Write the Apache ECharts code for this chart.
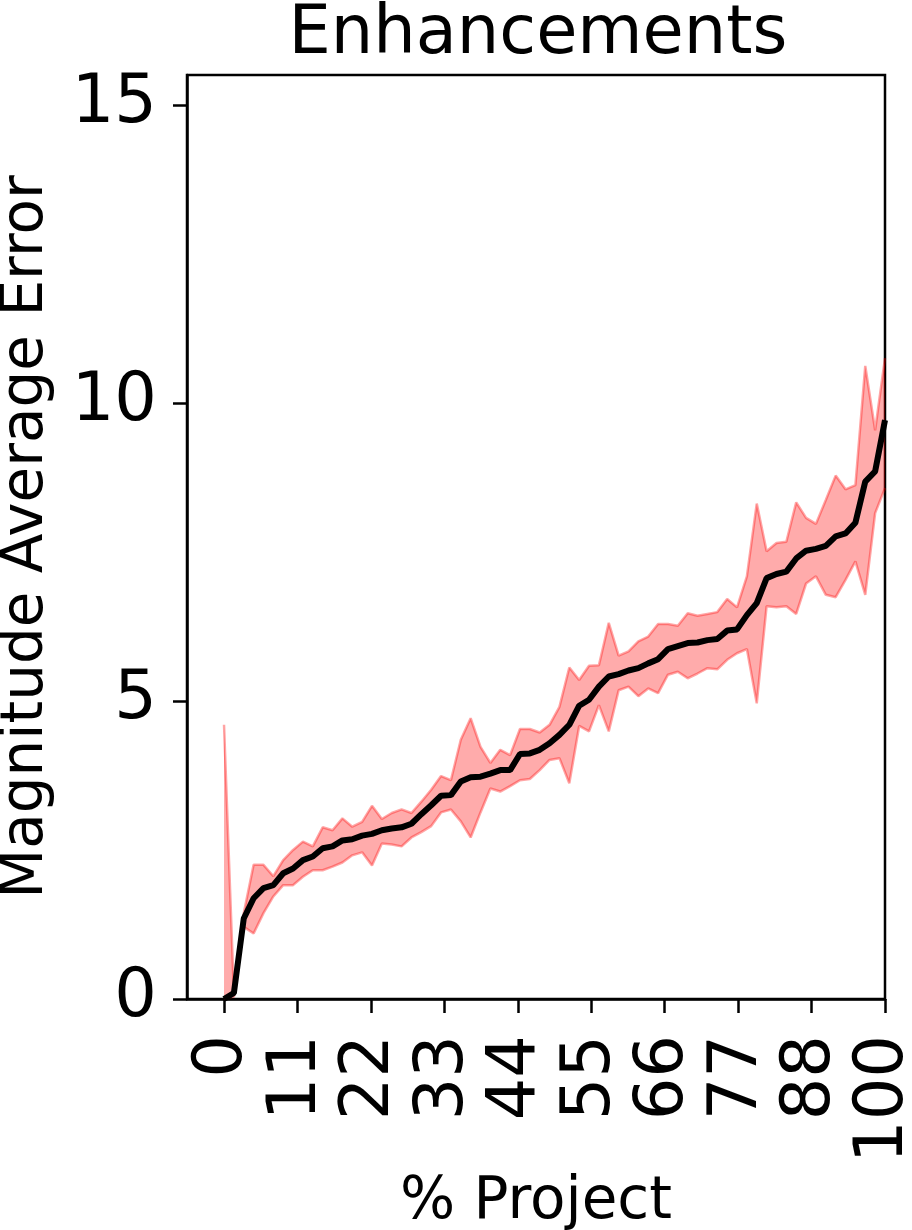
<!DOCTYPE html>
<html>
<head>
<meta charset="utf-8">
<script src="https://cdn.jsdelivr.net/npm/echarts@6/dist/echarts.min.js"></script>
<style>
  html, body { margin: 0; padding: 0; background: #fff; }
  #chart { width: 912px; height: 1230px; }
</style>
</head>
<body>
<div id="chart"></div>
<script>
// mean magnitude error per step of the project
const meanErr = [
  0.00, 0.10, 1.35, 1.69, 1.86, 1.91, 2.11, 2.19, 2.33, 2.39,
  2.53, 2.56, 2.66, 2.68, 2.74, 2.77, 2.83, 2.86, 2.88, 2.94,
  3.10, 3.25, 3.41, 3.42, 3.65, 3.72, 3.73, 3.78, 3.84, 3.84,
  4.11, 4.12, 4.18, 4.29, 4.43, 4.60, 4.92, 5.02, 5.24, 5.41,
  5.45, 5.51, 5.55, 5.63, 5.70, 5.87, 5.92, 5.97, 5.98, 6.02,
  6.04, 6.18, 6.20, 6.44, 6.64, 7.06, 7.13, 7.17, 7.39, 7.52,
  7.55, 7.60, 7.76, 7.81, 7.99, 8.68, 8.85, 9.71
]
// upper edge of the shaded band
const upperErr = [
  4.60, 0.10, 1.44, 2.25, 2.25, 2.06, 2.33, 2.50, 2.64, 2.56,
  2.88, 2.83, 3.03, 2.89, 2.97, 3.24, 3.02, 3.12, 3.18, 3.12,
  3.31, 3.51, 3.74, 3.67, 4.35, 4.71, 4.23, 3.96, 4.18, 4.09,
  4.53, 4.53, 4.47, 4.60, 4.90, 5.56, 5.35, 5.59, 5.60, 6.31,
  5.76, 5.83, 6.00, 6.08, 6.29, 6.29, 6.26, 6.47, 6.43, 6.46,
  6.49, 6.71, 6.57, 7.09, 8.31, 7.51, 7.65, 7.67, 8.33, 8.07,
  7.97, 8.37, 8.78, 8.55, 8.62, 10.62, 9.54, 10.75
]
// lower edge of the shaded band
const lowerErr = [
  0.00, 0.04, 1.21, 1.10, 1.44, 1.72, 1.91, 1.91, 2.05, 2.16,
  2.16, 2.22, 2.29, 2.41, 2.46, 2.24, 2.61, 2.59, 2.56, 2.71,
  2.80, 2.90, 3.13, 3.18, 2.98, 2.71, 3.13, 3.53, 3.48, 3.57,
  3.67, 3.69, 3.84, 4.01, 4.04, 3.62, 4.58, 4.49, 4.93, 4.49,
  5.18, 5.24, 5.08, 5.21, 5.13, 5.44, 5.49, 5.38, 5.46, 5.55,
  5.53, 5.69, 5.80, 5.87, 4.96, 6.59, 6.57, 6.59, 6.46, 6.97,
  7.09, 6.78, 6.74, 7.03, 7.34, 6.78, 8.15, 8.57
]

// x ticks sit at ninths of 100, labelled truncated
const xTickValues = [0, 11.11, 22.22, 33.33, 44.44, 55.56, 66.67, 77.78, 88.89, 100]
const xTickLabels = ['0', '11', '22', '33', '44', '55', '66', '77', '88', '100']
const yTickValues = [0, 5, 10, 15]

// % of project for each sample (evenly spaced from 0 to 100)
const pct = meanErr.map((_, i) => i * 100 / (meanErr.length - 1))

const FONT = 'DejaVu Sans'

let myChart = echarts.init(document.getElementById('chart'))

const edgeColor = 'rgba(255,0,0,0.35)'

const option = {
  backgroundColor: '#fff',
  animation: false,
  title: {
    text: 'Enhancements',
    left: 538,
    textAlign: 'center',
    top: 2,
    padding: 0,
    textStyle: {
      fontFamily: FONT,
      fontSize: 67,
      fontWeight: 'normal',
      color: '#000'
    }
  },
  grid: {
    left: 187,
    right: 27,
    top: 75,
    bottom: 231,
    outerBoundsMode: 'none',
    containLabel: false,
    show: true,
    borderColor: '#000',
    borderWidth: 2.5,
    backgroundColor: 'transparent'
  },
  xAxis: {
    type: 'value',
    min: -5.6,
    max: 100,
    name: '% Project',
    nameLocation: 'middle',
    nameGap: 175,
    nameTextStyle: { fontFamily: FONT, fontSize: 58, color: '#000' },
    axisLine: { show: true, onZero: false, lineStyle: { color: '#000', width: 2.5 } },
    axisTick: {
      show: true,
      length: 14,
      customValues: xTickValues,
      lineStyle: { color: '#000', width: 2.5 }
    },
    axisLabel: {
      rotate: 90,
      margin: 36,
      fontFamily: FONT,
      fontSize: 67,
      color: '#000',
      customValues: xTickValues,
      formatter: function (v) {
        let k = xTickValues.findIndex(t => Math.abs(t - v) < 0.01)
        return k >= 0 ? xTickLabels[k] : ''
      }
    },
    splitLine: { show: false }
  },
  yAxis: {
    type: 'value',
    min: 0,
    max: 15.5,
    name: 'Magnitude Average Error',
    nameLocation: 'middle',
    nameGap: 131,
    nameTextStyle: { fontFamily: FONT, fontSize: 58, color: '#000' },
    axisLine: { show: true, onZero: false, lineStyle: { color: '#000', width: 2.5 } },
    axisTick: {
      show: true,
      length: 14,
      customValues: yTickValues,
      lineStyle: { color: '#000', width: 2.5 }
    },
    axisLabel: {
      margin: 30,
      fontFamily: FONT,
      fontSize: 67,
      color: '#000',
      customValues: yTickValues
    },
    splitLine: { show: false }
  },
  series: [
    {
      // shaded band between lower and upper
      type: 'custom',
      clip: true,
      silent: true,
      data: pct.map((x, i) => [x, lowerErr[i], upperErr[i]]),
      encode: { x: 0, y: [1, 2] },
      renderItem: function (params, api) {
        if (params.dataIndex !== 0) return
        let pts = []
        for (let i = 0; i < pct.length; i++) pts.push(api.coord([pct[i], upperErr[i]]))
        for (let i = pct.length - 1; i >= 0; i--) pts.push(api.coord([pct[i], lowerErr[i]]))
        return {
          type: 'polygon',
          shape: { points: pts },
          style: { fill: 'rgba(255,0,0,0.33)', stroke: 'none' }
        }
      },
      z: 1
    },
    {
      type: 'line',
      data: pct.map((x, i) => [x, upperErr[i]]),
      showSymbol: false,
      lineStyle: { color: edgeColor, width: 2.5 },
      z: 2
    },
    {
      type: 'line',
      data: pct.map((x, i) => [x, lowerErr[i]]),
      showSymbol: false,
      lineStyle: { color: edgeColor, width: 2.5 },
      z: 2
    },
    {
      type: 'line',
      data: pct.map((x, i) => [x, meanErr[i]]),
      showSymbol: false,
      lineStyle: { color: '#000', width: 6 },
      z: 3
    }
  ]
}

myChart.setOption(option)
</script>
</body>
</html>
